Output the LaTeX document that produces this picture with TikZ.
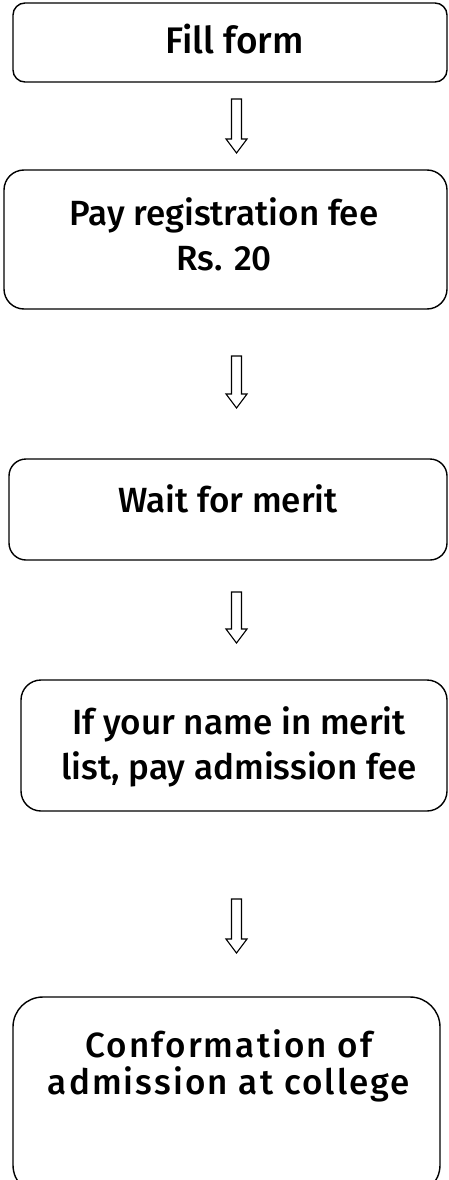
\documentclass[tikz,border=0pt]{standalone}
\usepackage{fontspec}
\setmainfont{Fira Sans Medium}
\usetikzlibrary{calc}

% hollow block arrow between two named points
\newcommand\flowarrow[2]{%
  \draw [hollowarrow] let \p1=(#1), \p2=(#2) in
    (\x1-5pt,\y1) -- (\x1+5pt,\y1) -- (\x1+5pt,\y2+14pt) -- (\x1+10.5pt,\y2+14pt)
    -- (\x1,\y2) -- (\x1-10.5pt,\y2+14pt) -- (\x1-5pt,\y2+14pt) -- cycle;}

\begin{document}
\begin{tikzpicture}[x=1pt,y=-1pt,
    stepbox/.style={draw,line width=1.4pt,rectangle,inner sep=0pt},
    steptext/.style={align=center,font=\fontsize{35}{45}\selectfont,anchor=base},
    hollowarrow/.style={draw,line width=1.1pt,fill=white,line join=miter}]

    \useasboundingbox (0,0) rectangle (448,1180);

    % Boxes
    \node [stepbox,rounded corners=12pt,minimum width=434pt,minimum height=79pt] (fill) at (230,42.5) {};
    \node [stepbox,rounded corners=20pt,minimum width=443pt,minimum height=139pt] (pay) at (225.5,239.5) {};
    \node [stepbox,rounded corners=17pt,minimum width=438pt,minimum height=101pt] (wait) at (228,509.5) {};
    \node [stepbox,rounded corners=20pt,minimum width=426pt,minimum height=131pt] (merit) at (234,745.5) {};
    \node [stepbox,rounded corners=30pt,minimum width=427pt,minimum height=198pt] (confirm) at (226.5,1096) {};

    % Texts (base = last line)
    \node [steptext,font=\fontsize{37}{45}\selectfont] (filltxt) at (234.5,54) {Fill form};
    \node [steptext] (paytxt) at (224,270) {Pay registration fee\\Rs. 20};
    \node [steptext] (waittxt) at (228,512) {Wait for merit};
    \node [steptext] (merittxt) at (239,779) {If your name in merit\\list, pay admission fee};
    \node [steptext,font=\fontsize{35}{37}\selectfont\addfontfeatures{LetterSpace=6}] (confirmtxt) at (229,1094) {Conformation of\\admission at college};

    % Arrows
    \coordinate (a1) at (236.5,99);   \coordinate (b1) at (236.5,153);
    \coordinate (a2) at (236.5,356);  \coordinate (b2) at (236.5,408);
    \coordinate (a3) at (236.5,592);  \coordinate (b3) at (236.5,643);
    \coordinate (a4) at (236.5,899);  \coordinate (b4) at (236.5,953);
    \flowarrow{a1}{b1}
    \flowarrow{a2}{b2}
    \flowarrow{a3}{b3}
    \flowarrow{a4}{b4}

\end{tikzpicture}
\end{document}
